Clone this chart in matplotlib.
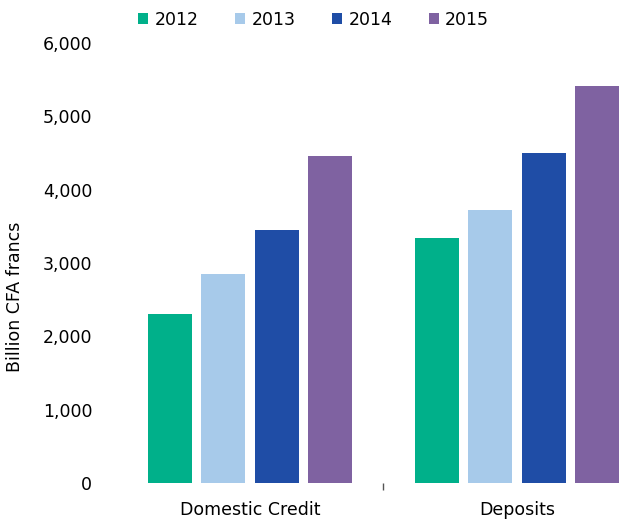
import matplotlib.pyplot as plt
import numpy as np

categories = ['Domestic Credit', 'Deposits']
years = ['2012', '2013', '2014', '2015']
values = {
    '2012': [2300, 3340],
    '2013': [2850, 3725],
    '2014': [3450, 4500],
    '2015': [4460, 5415],
}
colors = ['#00B08A', '#A7CAEA', '#1F4DA6', '#7F62A1']
yticks = [0, 1000, 2000, 3000, 4000, 5000, 6000]

plt.rcParams['font.family'] = ['DejaVu Sans']
fs = 12.5

fig = plt.figure(figsize=(6.21, 5.2), dpi=100)
ax = fig.add_axes([0.2335, 0.0712, 0.7665, 0.8458])

x = np.arange(len(categories))
width = 0.165
step = 0.2
for i, (yr, c) in enumerate(zip(years, colors)):
    ax.bar(x + (i - 1.5) * step, values[yr], width, color=c, label=yr)

ax.set_xlim(-0.393, 1.39)
ax.set_ylim(0, 6000)
ax.set_yticks(yticks)
ax.set_yticklabels(['{:,}'.format(v) for v in yticks], fontsize=fs)
ax.tick_params(axis='y', length=0, pad=38)

ax.set_xticks(x)
ax.set_xticklabels(categories, fontsize=fs)
ax.tick_params(axis='x', which='major', length=0, pad=13)
ax.set_xticks([0.5], minor=True)
ax.tick_params(axis='x', which='minor', length=5, width=1, color='#555555')

for s in ax.spines.values():
    s.set_visible(False)

fig.text(15 / 621, 1 - 297 / 520, 'Billion CFA francs', rotation=90,
         va='center', ha='center', fontsize=fs)

fig.legend(*ax.get_legend_handles_labels(), loc='center left',
           bbox_to_anchor=(138 / 621, 1 - 20 / 520), ncol=4, frameon=False,
           fontsize=fs, handlelength=0.6, handleheight=0.6, handletextpad=0.35,
           columnspacing=2.1, borderpad=0, borderaxespad=0)

fig.savefig('out.png', dpi=100)
